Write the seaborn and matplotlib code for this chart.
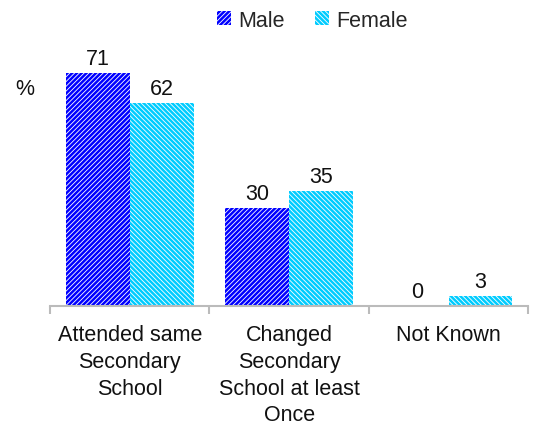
import matplotlib
matplotlib.use("Agg")
import matplotlib.pyplot as plt
import seaborn as sns
import pandas as pd
from matplotlib.patches import Patch

categories = ["Attended same\nSecondary\nSchool",
              "Changed\nSecondary\nSchool at least\nOnce",
              "Not Known"]
male = [71, 30, 0]
female = [62, 35, 3]
series = ["Male", "Female"]

df = pd.DataFrame({
    "category": categories * 2,
    "sex": ["Male"] * len(categories) + ["Female"] * len(categories),
    "value": male + female,
})

sns.set_theme(style="white")
plt.rcParams["font.family"] = ["Liberation Sans", "DejaVu Sans"]
plt.rcParams["hatch.linewidth"] = 0.6

colors = {"Male": "#0000FF", "Female": "#00CCFF"}
hatches = {"Male": "/" * 7, "Female": "\\" * 7}
FS = 15.5

fig = plt.figure(figsize=(5.34, 4.27), dpi=100)
ax = fig.add_axes([0.0936, 0.281, 0.896, 0.614])

sns.barplot(data=df, x="category", y="value", hue="sex", order=categories,
            hue_order=series, palette=colors, saturation=1, width=0.8, ax=ax,
            legend=False, errorbar=None)

for container, s in zip(ax.containers, series):
    for bar in container:
        bar.set_hatch(hatches[s])
        bar.set_edgecolor("white")
        bar.set_linewidth(0)
    ax.bar_label(container, labels=[str(v) for v in (male if s == "Male" else female)],
                 padding=3, fontsize=FS, color="#111111")

ax.set_xlim(-0.5, 2.5)
ax.set_ylim(0, 80)
ax.set_yticks([])
ax.set_xlabel("")
ax.set_ylabel("")
for side in ["top", "right", "left"]:
    ax.spines[side].set_visible(False)
ax.spines["bottom"].set_color("#BBBBBB")
ax.spines["bottom"].set_linewidth(1.5)

ax.set_xticks(range(len(categories)))
ax.set_xticklabels(categories, fontsize=FS, color="#111111", linespacing=1.36,
                   va="top")
ax.tick_params(axis="x", which="major", length=0, pad=13)
ax.set_xticks([-0.5, 0.5, 1.5, 2.5], minor=True)
ax.tick_params(axis="x", which="minor", length=6, width=1.5, color="#BBBBBB",
               direction="out", bottom=True)

fig.text(0.047, 0.79, "%", fontsize=FS, color="#111111", ha="center", va="center")

handles = [Patch(facecolor=colors[s], edgecolor="white", hatch=hatches[s],
                 linewidth=0, label=s) for s in series]
fig.legend(handles=handles, loc="center", bbox_to_anchor=(0.585, 0.95), ncol=2,
           frameon=False, fontsize=FS, handlelength=0.65, handleheight=0.65,
           handletextpad=0.3, columnspacing=1.45)

fig.savefig("out.png", dpi=100)
